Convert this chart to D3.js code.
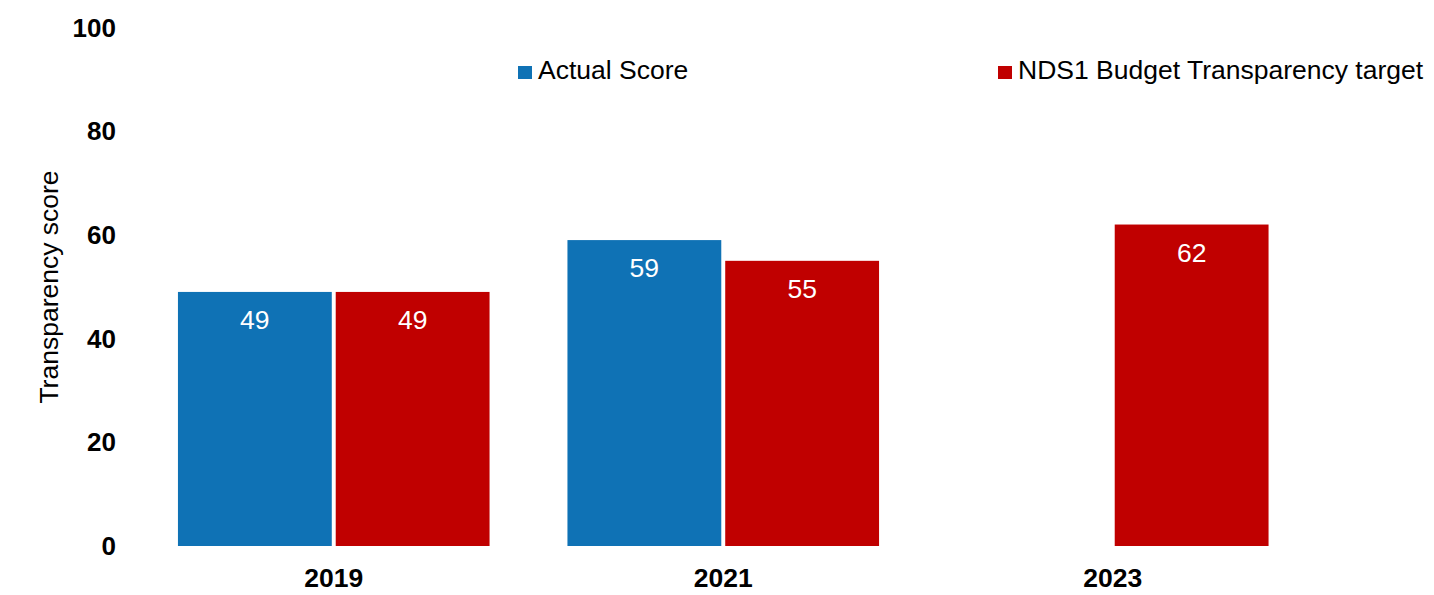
<!DOCTYPE html>
<html>
<head>
<meta charset="utf-8">
<script src="https://cdn.jsdelivr.net/npm/d3@7"></script>
<style>
  body { margin: 0; background: #fff; }
  text { font-family: "Liberation Sans", Arial, sans-serif; }
</style>
</head>
<body>
<div id="chart"></div>
<script>
// chart data
var years = ["2019", "2021", "2023"];
var seriesNames = ["Actual Score", "NDS1 Budget Transparency target"];
var actualScore = [49, 59, null];
var targetScore = [49, 55, 62];
var yTicks = [0, 20, 40, 60, 80, 100];

var colors = ["#0f72b5", "#c00000"];
var width = 1434, height = 595;

var svg = d3.select("#chart")
            .append("svg")
            .attr("width", width)
            .attr("height", height);

var x = d3.scaleBand()
          .domain(years)
          .range([139, 1307.5])
          .paddingInner(0.2)
          .paddingOuter(0.1);

var xInner = d3.scaleBand()
               .domain([0, 1])
               .range([0, x.bandwidth()])
               .paddingInner(0.025);

var y = d3.scaleLinear()
          .domain([0, 100])
          .range([546, 27.5]);

// y axis labels
svg.selectAll(".ytick")
   .data(yTicks)
   .enter()
   .append("text")
   .attr("x", 116)
   .attr("y", function(d){ return y(d); })
   .attr("dy", "0.35em")
   .attr("text-anchor", "end")
   .attr("font-size", "26px")
   .attr("font-weight", "bold")
   .attr("fill", "#000")
   .text(function(d){ return d; });

// y axis title
svg.append("text")
   .attr("transform", "translate(58,287) rotate(-90)")
   .attr("text-anchor", "middle")
   .attr("font-size", "26.5px")
   .attr("fill", "#000")
   .text("Transparency score");

// x labels
svg.selectAll(".xtick")
   .data(years)
   .enter()
   .append("text")
   .attr("x", function(d){ return x(d) + x.bandwidth() / 2; })
   .attr("y", 587)
   .attr("text-anchor", "middle")
   .attr("font-size", "26.5px")
   .attr("font-weight", "bold")
   .attr("fill", "#000")
   .text(function(d){ return d; });

// bars
var rows = [];
years.forEach(function(yr, i){
	[actualScore[i], targetScore[i]].forEach(function(v, s){
		if (v != null) rows.push({year: yr, s: s, v: v});
	});
});

svg.selectAll(".bar")
   .data(rows)
   .enter()
   .append("rect")
   .attr("x", function(d){ return x(d.year) + xInner(d.s); })
   .attr("y", function(d){ return y(d.v); })
   .attr("width", xInner.bandwidth())
   .attr("height", function(d){ return y(0) - y(d.v); })
   .attr("fill", function(d){ return colors[d.s]; });

svg.selectAll(".barLabel")
   .data(rows)
   .enter()
   .append("text")
   .attr("x", function(d){ return x(d.year) + xInner(d.s) + xInner.bandwidth() / 2; })
   .attr("y", function(d){ return y(d.v) + 37; })
   .attr("text-anchor", "middle")
   .attr("font-size", "26.5px")
   .attr("fill", "#fff")
   .text(function(d){ return d.v; });

// legend
var legendX = [518, 998];
var legend = svg.selectAll(".legend")
                .data(seriesNames)
                .enter()
                .append("g")
                .attr("transform", function(d, i){ return "translate(" + legendX[i] + ",66)"; });

legend.append("rect")
      .attr("width", 14)
      .attr("height", 13)
      .attr("fill", function(d, i){ return colors[i]; });

legend.append("text")
      .attr("x", 20)
      .attr("y", 13)
      .attr("font-size", "26.5px")
      .attr("fill", "#000")
      .text(function(d){ return d; });
</script>
</body>
</html>
